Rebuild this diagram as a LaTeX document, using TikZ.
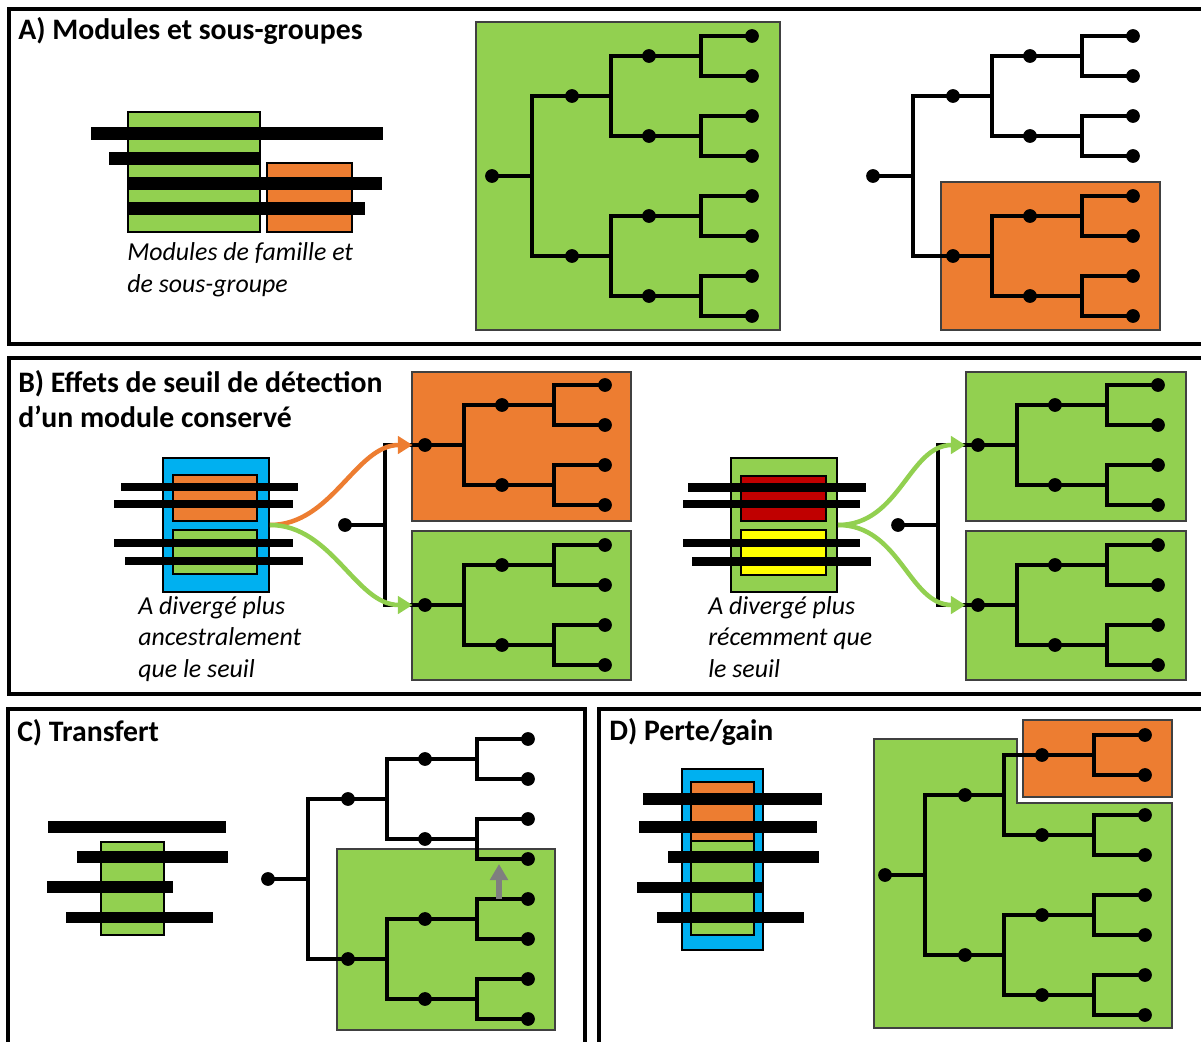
\documentclass[tikz,border=0pt]{standalone}
\usepackage{fontspec}
\setmainfont{Carlito}
\usepackage{tikz}
\usetikzlibrary{arrows.meta,positioning,fit,calc}
\definecolor{modgreen}{HTML}{92D050}
\definecolor{modorange}{HTML}{ED7D31}
\definecolor{modblue}{HTML}{00B0F0}
\definecolor{modred}{HTML}{C00000}
\definecolor{modyellow}{HTML}{FFFF00}
\definecolor{arrgray}{HTML}{7F7F7F}
% four-leaf tree, root at (#2,#3)
\newcommand{\subtree}[3]{%
  \node[dot] (#1) at (#2,#3) {};
  \foreach \i/\dy in {1/-40,2/40}{
    \node[dot] (#1-\i) at (#2+77,#3+\dy) {};
    \node[dot] (#1-\i-1) at (#2+180,#3+\dy-20) {};
    \node[dot] (#1-\i-2) at (#2+180,#3+\dy+20) {};
    \coordinate (#1-\i-b) at (#2+129,#3+\dy);
    \draw[branch] (#1-\i-1.center) -| (#1-\i-b) |- (#1-\i-2.center)
                  (#1-\i.center) -- (#1-\i-b);
  }
  \coordinate (#1-b) at (#2+39,#3);
  \draw[branch] (#1-1.center) -| (#1-b) |- (#1-2.center) (#1.center) -- (#1-b);
}
% eight-leaf tree
\newcommand{\bigtree}[3]{%
  \node[dot] (#1) at (#2,#3) {};
  \subtree{#1-a}{#2+80}{#3-80}
  \subtree{#1-b}{#2+80}{#3+80}
  \coordinate (#1-j) at (#2+40,#3);
  \draw[branch] (#1-a.center) -| (#1-j) |- (#1-b.center) (#1.center) -- (#1-j);
}

\begin{document}
\begin{tikzpicture}[x=0.75pt,y=-0.75pt,
  frame/.style={line width=3.6pt},
  title/.style={anchor=base west,inner sep=0pt,align=left,
                font=\bfseries\fontsize{22.3}{26.25}\selectfont},
  caption/.style={anchor=base west,inner sep=0pt,align=left,
                  font=\itshape\fontsize{19.4}{23.6}\selectfont},
  dot/.style={circle,fill=black,inner sep=0pt,minimum size=10.3pt},
  branch/.style={line width=3.5pt},
  treebox/.style={draw=black!75,line width=0.8pt,inner sep=0pt},
  modbox/.style={draw=black,line width=1.5pt,inner sep=0pt},
  seg/.style={fill=black},
  oarr/.style={-{Triangle[length=11pt,width=13pt]},line width=3.4pt,
               draw=modorange,shorten >=4pt},
  garr/.style={-{Triangle[length=11pt,width=13pt]},line width=3.4pt,
               draw=modgreen,shorten >=4pt},
  trarr/.style={-{Triangle[length=12pt,width=13pt]},line width=4.5pt,draw=arrgray},
]
\clip (0,0) rectangle (1201,1041);

% A) modules and subgroups
\draw[frame] (9,9) rectangle (1215,344);
\node[title] (tA) at (18,40) {A) Modules et sous-groupes};
\node[modbox,fill=modgreen,fit={(128,112) (260,232)}] (amg) {};
\node[modbox,fill=modorange,fit={(267,163) (352,232)}] (amo) {};
\fill[seg] (91,127) rectangle (383,140);
\fill[seg] (109,152) rectangle (260,165);
\fill[seg] (128,177) rectangle (382,190);
\fill[seg] (128,202) rectangle (365,215);
\node[caption] (capA) at (127,292) {Modules de famille et\\de sous-groupe};

\node[treebox,fill=modgreen,fit={(476,22) (780,330)}] (boxA1) {};
\bigtree{ta}{492}{176}
\node[treebox,fill=modorange,fit={(941,182) (1160,330)}] (boxA2) {};
\bigtree{tb}{873}{176}

% B) detection threshold
\draw[frame] (9,358) rectangle (1215,694);
\node[title] (tB) at (18,427) {B) Effets de seuil de détection\\d’un module conservé};

\node[modbox,fill=modblue,fit={(163,458) (269,592)}] (lmod) {};
\node[modbox,fill=modorange,fit={(173,475) (257,521)}] (lmod-a) {};
\node[modbox,fill=modgreen,fit={(173,530) (257,574)}] (lmod-b) {};
\fill[seg] (121,483) rectangle (298,491);
\fill[seg] (114,500) rectangle (293,508);
\fill[seg] (114,539) rectangle (293,547);
\fill[seg] (125,557) rectangle (303,565);
\node[caption] (capB1) at (138,677) {A divergé plus\\ancestralement\\que le seuil};

\node[treebox,fill=modorange,fit={(412,372) (631,521)}] (boxB1) {};
\node[treebox,fill=modgreen,fit={(412,531) (631,680)}] (boxB2) {};
\bigtree{bl}{345}{525}
\draw[oarr] (lmod.east) .. controls +(62,0) and +(-62,0) .. (bl-a.west);
\draw[garr] (lmod.east) .. controls +(62,0) and +(-62,0) .. (bl-b.west);

\node[modbox,fill=modgreen,fit={(731,458) (837,592)}] (rmod) {};
\node[modbox,fill=modred,fit={(741,476) (826,521)}] (rmod-a) {};
\node[modbox,fill=modyellow,fit={(741,530) (826,575)}] (rmod-b) {};
\fill[seg] (688,483) rectangle (866,492);
\fill[seg] (683,500) rectangle (860,508);
\fill[seg] (683,539) rectangle (860,547);
\fill[seg] (692,557) rectangle (871,566);
\node[caption] (capB2) at (708,677) {A divergé plus\\récemment que\\le seuil};

\node[treebox,fill=modgreen,fit={(966,372) (1186,521)}] (boxB3) {};
\node[treebox,fill=modgreen,fit={(966,531) (1186,680)}] (boxB4) {};
\bigtree{br}{898}{525}
\draw[garr] (rmod.east) .. controls +(62,0) and +(-62,0) .. (br-a.west);
\draw[garr] (rmod.east) .. controls +(62,0) and +(-62,0) .. (br-b.west);

% C) transfer
\draw[frame] (8,709) rectangle (585,1060);
\node[title] (tC) at (17,741) {C) Transfert};
\node[modbox,line width=1pt,fill=modgreen,fit={(101,842) (164,935)}] (cmod) {};
\fill[seg] (48,821) rectangle (226,833);
\fill[seg] (77,851) rectangle (228,863);
\fill[seg] (47,881) rectangle (173,893);
\fill[seg] (66,912) rectangle (213,923);
\node[treebox,fill=modgreen,fit={(337,849) (555,1030)}] (boxC) {};
\bigtree{c}{268}{879}
\draw[trarr] ($(c-b-1-1)+(-29,0)$) -- ($(c-a-2-2)+(-29,5)$);

% D) loss/gain
\draw[frame] (599,709) rectangle (1215,1060);
\node[title] (tD) at (609,740) {D) Perte/gain};
\node[modbox,fill=modblue,fit={(682,769) (763,950)}] (dmod) {};
\node[modbox,fill=modorange,fit={(691,782) (754,841)}] (dmod-a) {};
\node[modbox,fill=modgreen,fit={(691,841) (754,935)}] (dmod-b) {};
\fill[seg] (643,793) rectangle (822,805);
\fill[seg] (639,821) rectangle (817,833);
\fill[seg] (668,851) rectangle (819,863);
\fill[seg] (637,882) rectangle (763,893);
\fill[seg] (657,912) rectangle (804,923);
\draw[draw=black!75,line width=0.8pt,fill=modgreen]
  (874,739) -- (1017,739) -- (1017,803) -- (1172,803) -- (1172,1028) -- (874,1028) -- cycle;
\node[treebox,fill=modorange,fit={(1023,720) (1172,797)}] (boxD) {};
\bigtree{d}{885}{875}
\end{tikzpicture}
\end{document}
